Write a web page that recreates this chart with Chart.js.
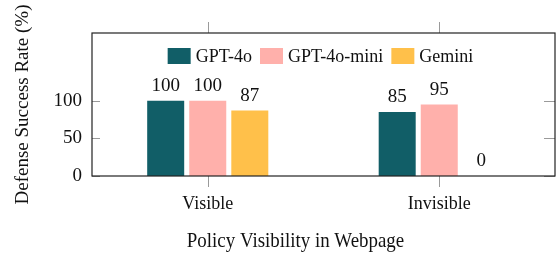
<!DOCTYPE html>
<html>
<head>
<meta charset="utf-8">
<script src="https://cdn.jsdelivr.net/npm/chart.js@4/dist/chart.umd.min.js"></script>
<style>
  html, body { margin: 0; padding: 0; background: #fff; }
  #wrap { width: 556px; height: 255px; }
</style>
</head>
<body>
<div id="wrap"><canvas id="c" width="556" height="255"></canvas></div>
<script>
const categories = ['Visible', 'Invisible'];
const seriesNames = ['GPT-4o', 'GPT-4o-mini', 'Gemini'];
const gpt4o = [100, 85];
const gpt4oMini = [100, 95];
const gemini = [87, 0];
const yTicks = [0, 50, 100];
const yMax = 190;
const colors = ['#115E67', '#FFB0AB', '#FFC04A'];
const xTitle = 'Policy Visibility in Webpage';

const FONT = "'Liberation Serif', 'Times New Roman', serif";

const decorPlugin = {
  id: 'decor',
  afterDatasetsDraw(chart) {
    const ctx = chart.ctx;
    const a = chart.chartArea;
    const xs = chart.scales.x, ys = chart.scales.y;
    ctx.save();
    // tick marks
    ctx.strokeStyle = '#9a9a9a';
    ctx.lineWidth = 1;
    ctx.beginPath();
    categories.forEach((c, i) => {
      const px = Math.round(xs.getPixelForValue(i)) + 0.5;
      ctx.moveTo(px, a.bottom); ctx.lineTo(px, a.bottom + 11);
      ctx.moveTo(px, a.top - 11); ctx.lineTo(px, a.top);
    });
    yTicks.forEach(v => {
      const py = Math.round(ys.getPixelForValue(v)) + 0.5;
      ctx.moveTo(a.left, py); ctx.lineTo(a.left + 8, py);
      ctx.moveTo(a.right - 11, py); ctx.lineTo(a.right, py);
    });
    ctx.stroke();
    // frame
    ctx.strokeStyle = '#222';
    ctx.lineWidth = 1.2;
    ctx.strokeRect(a.left, a.top, a.right - a.left, a.bottom - a.top);
    // value labels
    ctx.fillStyle = '#111';
    ctx.font = '19px ' + FONT;
    ctx.textAlign = 'center';
    ctx.textBaseline = 'alphabetic';
    chart.data.datasets.forEach((ds, di) => {
      const meta = chart.getDatasetMeta(di);
      meta.data.forEach((bar, i) => {
        ctx.fillText(String(ds.data[i]), bar.x, bar.y - 10);
      });
    });
    // legend inside chart area
    ctx.font = '18px ' + FONT;
    const boxW = 23, boxH = 16, gapBT = 5, gapItems = 8;
    const items = chart.data.datasets.map(ds => ({ label: ds.label, color: ds.backgroundColor, w: ctx.measureText(ds.label).width }));
    let total = 0;
    items.forEach((it, i) => { total += boxW + gapBT + it.w + (i < items.length - 1 ? gapItems : 0); });
    let x = (a.left + a.right) / 2 - 3 - total / 2;
    const yTop = a.top + 15;
    ctx.textAlign = 'left';
    ctx.textBaseline = 'middle';
    items.forEach(it => {
      ctx.fillStyle = it.color;
      ctx.fillRect(x, yTop, boxW, boxH);
      ctx.fillStyle = '#111';
      ctx.fillText(it.label, x + boxW + gapBT, yTop + boxH / 2 + 1);
      x += boxW + gapBT + it.w + gapItems;
    });
    // x axis title (centred slightly left of plot centre, as in the source)
    const cx = (a.left + a.right) / 2 - 28;
    ctx.translate(cx, 247);
    ctx.scale(0.9, 1);
    ctx.font = '21px ' + FONT;
    ctx.textAlign = 'center';
    ctx.textBaseline = 'alphabetic';
    ctx.fillStyle = '#111';
    ctx.fillText(xTitle, 0, 0);
    ctx.restore();
  }
};

new Chart(document.getElementById('c'), {
  type: 'bar',
  data: {
    labels: categories,
    datasets: [
      { label: seriesNames[0], data: gpt4o, backgroundColor: colors[0] },
      { label: seriesNames[1], data: gpt4oMini, backgroundColor: colors[1] },
      { label: seriesNames[2], data: gemini, backgroundColor: colors[2] }
    ]
  },
  options: {
    responsive: false,
    animation: false,
    devicePixelRatio: 1,
    layout: { padding: { top: 33, right: 1, left: 0, bottom: 0 } },
    datasets: { bar: { categoryPercentage: 0.545, barPercentage: 0.88 } },
    plugins: { legend: { display: false }, tooltip: { enabled: false } },
    scales: {
      x: {
        grid: { display: false, drawTicks: false, tickLength: 0 },
        border: { display: false },
        ticks: { color: '#111', font: { family: FONT, size: 18 }, padding: 17 },
        title: { display: false },
        afterFit: s => { s.height = 79; }
      },
      y: {
        min: 0, max: yMax,
        grid: { display: false, drawTicks: false, tickLength: 0 },
        border: { display: false },
        afterBuildTicks: s => { s.ticks = yTicks.map(v => ({ value: v })); },
        ticks: { color: '#111', font: { family: FONT, size: 19 }, padding: 10 },
        title: { display: true, text: 'Defense Success Rate (%)', color: '#111', font: { family: FONT, size: 19 }, padding: { top: 12, bottom: 0 } },
        afterFit: s => { s.width = 92; }
      }
    }
  },
  plugins: [decorPlugin]
});
</script>
</body>
</html>
